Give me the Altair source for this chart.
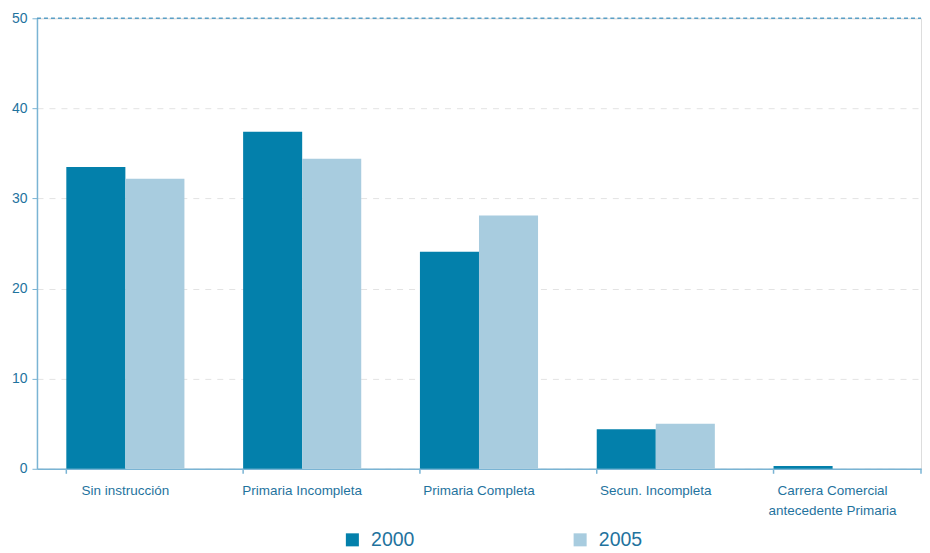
import altair as alt
import pandas as pd

categories = ["Sin instrucción", "Primaria Incompleta", "Primaria Completa",
              "Secun. Incompleta", "Carrera Comercial\nantecedente Primaria"]
years = ["2000", "2005"]
v2000 = [33.5, 37.4, 24.1, 4.4, 0.3]
v2005 = [32.2, 34.4, 28.1, 5.0, 0.0]
colors = ["#0380AB", "#A8CCDF"]

rows = []
for c, a, b in zip(categories, v2000, v2005):
    rows.append({"cat": c, "year": "2000", "value": a})
    rows.append({"cat": c, "year": "2005", "value": b})
df = pd.DataFrame(rows)
cats_df = pd.DataFrame({"cat": categories})

W, H = 885, 451
txt = "#1F739E"
axc = "#7AB4D4"
font = "Liberation Sans"

xscale = alt.Scale(domain=categories, paddingInner=0.332, paddingOuter=0.166)

bars = alt.Chart(df).mark_bar().encode(
    x=alt.X("cat:N", sort=categories, scale=xscale, title=None,
            axis=alt.Axis(labelAngle=0, ticks=False, domainColor=axc, domainWidth=1.5,
                          labelColor=txt, labelFontSize=13.5, labelPadding=15,
                          labelLineHeight=20, labelFont=font,
                          labelExpr="split(datum.label, '\\n')")),
    xOffset=alt.XOffset("year:N", sort=years),
    y=alt.Y("value:Q", scale=alt.Scale(domain=[0, 50], nice=False), title=None,
            axis=alt.Axis(values=[0, 10, 20, 30, 40, 50], grid=True, gridColor="#E3E3E3",
                          gridDash=[6, 6], domainColor=axc, domainWidth=1.5,
                          tickColor=axc, tickSize=5, labelColor=txt, labelFontSize=14,
                          labelFont=font, labelPadding=5, minExtent=29, maxExtent=29)),
    color=alt.Color("year:N", sort=years,
                    scale=alt.Scale(domain=years, range=colors),
                    legend=alt.Legend(title=None, orient="none", direction="horizontal",
                                      legendX=306, legendY=H + 61,
                                      symbolType="square", symbolSize=170, symbolStrokeWidth=0,
                                      labelFontSize=19.5, labelColor=txt, labelFont=font,
                                      columnPadding=156, labelOffset=9)),
)

ticks = alt.Chart(cats_df).mark_rule(color=axc, strokeWidth=1.5).encode(
    x=alt.X("cat:N", sort=categories, scale=xscale, bandPosition=0),
    y=alt.value(H), y2=alt.value(H + 5),
)
last_tick = alt.Chart(cats_df.head(1)).mark_rule(color=axc, strokeWidth=1.5).encode(
    x=alt.value(W), y=alt.value(H), y2=alt.value(H + 5),
)
top_line = alt.Chart(cats_df.head(1)).mark_rule(color="#5A9FC6", strokeDash=[4, 3],
                                                strokeWidth=1.5).encode(
    x=alt.value(0), x2=alt.value(W), y=alt.value(0),
)

chart = alt.layer(bars, ticks, last_tick, top_line).properties(
    width=W, height=H, padding={"top": 3, "left": 0, "right": 0, "bottom": 0}
).configure_view(stroke=None).configure(font=font)

chart.save("out.html", embed_options={"renderer": "svg", "actions": False})
